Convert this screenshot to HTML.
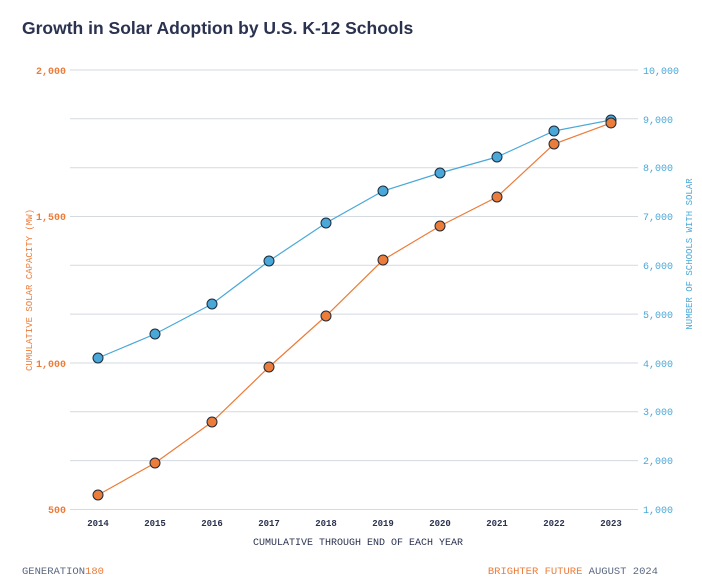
<!DOCTYPE html>
<html><head><meta charset="utf-8"><style>
body{margin:0;background:#fff;width:702px;height:584px;overflow:hidden}
svg{display:block}
</style></head><body>
<svg width="702" height="584" xmlns="http://www.w3.org/2000/svg">
<text x="22" y="34" font-family="Liberation Sans, sans-serif" font-weight="bold" font-size="17.5" fill="#2a3250">Growth in Solar Adoption by U.S. K-12 Schools</text>
<g stroke="#d3dae0" stroke-width="1">
<line x1="70" x2="638" y1="70" y2="70"/><line x1="70" x2="638" y1="118.8" y2="118.8"/>
<line x1="70" x2="638" y1="167.7" y2="167.7"/><line x1="70" x2="638" y1="216.5" y2="216.5"/>
<line x1="70" x2="638" y1="265.3" y2="265.3"/><line x1="70" x2="638" y1="314.1" y2="314.1"/>
<line x1="70" x2="638" y1="363" y2="363"/><line x1="70" x2="638" y1="411.8" y2="411.8"/>
<line x1="70" x2="638" y1="460.6" y2="460.6"/><line x1="70" x2="638" y1="509.5" y2="509.5"/>
</g>
<g font-family="Liberation Mono, monospace" font-size="10" font-weight="bold" fill="#ec7c3a" text-anchor="end">
<text x="66" y="74">2,000</text><text x="66" y="220">1,500</text><text x="66" y="367">1,000</text><text x="66" y="513">500</text>
</g>
<g font-family="Liberation Mono, monospace" font-size="10" fill="#4aa8d8">
<text x="643" y="74">10,000</text><text x="643" y="123">9,000</text><text x="643" y="171">8,000</text><text x="643" y="220">7,000</text><text x="643" y="269">6,000</text><text x="643" y="318">5,000</text><text x="643" y="367">4,000</text><text x="643" y="415">3,000</text><text x="643" y="464">2,000</text><text x="643" y="513">1,000</text>
</g>
<text transform="translate(32,290) rotate(-90)" text-anchor="middle" font-family="Liberation Mono, monospace" font-size="9" fill="#ec7c3a">CUMULATIVE SOLAR CAPACITY (MW)</text>
<text transform="translate(692,254) rotate(-90)" text-anchor="middle" font-family="Liberation Mono, monospace" font-size="9" fill="#4aa8d8">NUMBER OF SCHOOLS WITH SOLAR</text>
<g font-family="Liberation Mono, monospace" font-size="9" font-weight="bold" fill="#2a3250" text-anchor="middle">
<text x="98" y="526">2014</text><text x="155" y="526">2015</text><text x="212" y="526">2016</text><text x="269" y="526">2017</text><text x="326" y="526">2018</text><text x="383" y="526">2019</text><text x="440" y="526">2020</text><text x="497" y="526">2021</text><text x="554" y="526">2022</text><text x="611" y="526">2023</text>
</g>
<text x="358" y="545" text-anchor="middle" font-family="Liberation Mono, monospace" font-size="10" fill="#2a3250">CUMULATIVE THROUGH END OF EACH YEAR</text>
<text x="22" y="574" font-family="Liberation Mono, monospace" font-size="10.5" fill="#5a6780">GENERATION<tspan fill="#ec7c3a">180</tspan></text>
<text x="658" y="574" text-anchor="end" font-family="Liberation Mono, monospace" font-size="10.5" fill="#5a6780"><tspan fill="#ec7c3a">BRIGHTER FUTURE</tspan> AUGUST 2024</text>
<polyline fill="none" stroke="#4aa8d8" stroke-width="1.2" points="98,358 155,334 212,304 269,261 326,223 383,191 440,173 497,157 554,131 611,120"/>
<polyline fill="none" stroke="#ec7c3a" stroke-width="1.2" points="98,495 155,463 212,422 269,367 326,316 383,260 440,226 497,197 554,144 611,123"/>
<g fill="#4aa8d8" stroke="#1d2a3a" stroke-width="1">
<circle cx="98" cy="358" r="5"/><circle cx="155" cy="334" r="5"/><circle cx="212" cy="304" r="5"/><circle cx="269" cy="261" r="5"/><circle cx="326" cy="223" r="5"/><circle cx="383" cy="191" r="5"/><circle cx="440" cy="173" r="5"/><circle cx="497" cy="157" r="5"/><circle cx="554" cy="131" r="5"/><circle cx="611" cy="120" r="5"/>
</g>
<g fill="#ec7c3a" stroke="#1d2a3a" stroke-width="1">
<circle cx="98" cy="495" r="5"/><circle cx="155" cy="463" r="5"/><circle cx="212" cy="422" r="5"/><circle cx="269" cy="367" r="5"/><circle cx="326" cy="316" r="5"/><circle cx="383" cy="260" r="5"/><circle cx="440" cy="226" r="5"/><circle cx="497" cy="197" r="5"/><circle cx="554" cy="144" r="5"/><circle cx="611" cy="123" r="5"/>
</g>
</svg>
</body></html>
